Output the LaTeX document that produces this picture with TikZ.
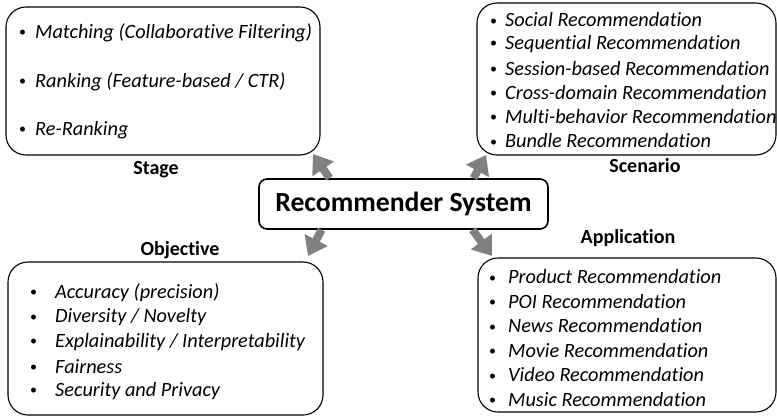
\documentclass[tikz,border=0pt]{standalone}
\usepackage{fontspec}
\setmainfont{Carlito}[Ligatures=NoCommon]
\definecolor{ArrowGray}{rgb}{0.5,0.5,0.5}
\usetikzlibrary{arrows.meta, positioning}
\newcommand{\dotmark}{\raisebox{1.8pt}{\upshape\fontsize{14}{14}\selectfont •}}

\begin{document}
\begin{tikzpicture}[x=1pt, y=-1pt,
    box/.style={draw=black, line width=1.1pt, rounded corners=20pt},
    item/.style={anchor=west, inner sep=0pt, font=\itshape\fontsize{20.3}{24}\selectfont},
    title/.style={font=\bfseries\fontsize{20}{24}\selectfont},
    fatarrow/.style={ArrowGray, line width=8pt, -{Triangle[length=18pt, width=25pt]}}]

    \useasboundingbox (0,0) rectangle (777,418);

    % centre box
    \node[draw=black, line width=1.6pt, rounded corners=8pt,
          minimum width=289pt, minimum height=50pt,
          font=\bfseries\fontsize{27.7}{32}\selectfont] (rs) at (403.5,204) {Recommender System};

    % stage (top left)
    \node[box, minimum width=314pt, minimum height=148pt] (st) at (163,81) {};
    \node[title] (st-t) at (156,170) {Stage};
    \foreach \txt [count=\i] in {Matching (Collaborative Filtering),
                                 Ranking (Feature-based / CTR),
                                 Re-Ranking}
        \node[item] (st-\i) at (19,{33+48.5*(\i-1)}) {\makebox[16pt][l]{\dotmark}\txt};

    % scenario (top right)
    \node[box, minimum width=299pt, minimum height=152pt] (sc) at (626.5,79) {};
    \node[title] (sc-t) at (645,166) {Scenario};
    \foreach \txt [count=\i] in {Social Recommendation,
                                 Sequential Recommendation,
                                 Session-based Recommendation,
                                 Cross-domain Recommendation,
                                 Multi-behavior Recommendation,
                                 Bundle Recommendation}
        \node[item] (sc-\i) at (490,{20+24.2*(\i-1)}) {\makebox[15pt][l]{\dotmark}\txt};

    % objective (bottom left)
    \node[box, minimum width=315pt, minimum height=153pt] (ob) at (165.5,338.5) {};
    \node[title] (ob-t) at (180,250) {Objective};
    \foreach \txt [count=\i] in {Accuracy (precision),
                                 Diversity / Novelty,
                                 Explainability / Interpretability,
                                 Fairness,
                                 Security and Privacy}
        \node[item] (ob-\i) at (30,{293+24.5*(\i-1)}) {\makebox[25pt][l]{\dotmark}\txt};

    % application (bottom right)
    \node[box, minimum width=298pt, minimum height=154pt] (ap) at (627,335) {};
    \node[title] (ap-t) at (628,238) {Application};
    \foreach \txt [count=\i] in {Product Recommendation,
                                 POI Recommendation,
                                 News Recommendation,
                                 Movie Recommendation,
                                 Video Recommendation,
                                 Music Recommendation}
        \node[item] (ap-\i) at (489,{277+24.5*(\i-1)}) {\makebox[19pt][l]{\dotmark}\txt};

    % arrow tips
    \coordinate (st-tip) at (313,154);
    \coordinate (sc-tip) at (486,155);
    \coordinate (ob-tip) at (308,256);
    \coordinate (ap-tip) at (492,256);

    % arrows out of the centre box
    \draw[fatarrow] ([xshift=-74pt]rs.north) -- (st-tip);
    \draw[fatarrow] ([xshift=70pt]rs.north) -- (sc-tip);
    \draw[fatarrow] ([xshift=-82pt]rs.south) -- (ob-tip);
    \draw[fatarrow] ([xshift=69pt]rs.south) -- (ap-tip);

\end{tikzpicture}
\end{document}
